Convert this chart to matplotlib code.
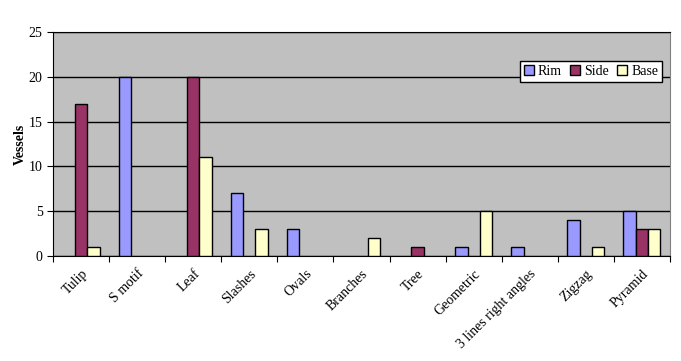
import numpy as np
import matplotlib.pyplot as plt
import matplotlib.transforms as mtransforms

categories = ["Tulip", "S motif", "Leaf", "Slashes", "Ovals", "Branches", "Tree",
              "Geometric", "3 lines right angles", "Zigzag", "Pyramid"]
rim = [0, 20, 0, 7, 3, 0, 0, 1, 1, 4, 5]
side = [17, 0, 20, 0, 0, 0, 1, 0, 0, 0, 3]
base = [1, 0, 11, 3, 0, 2, 0, 5, 0, 1, 3]

plt.rcParams['font.family'] = ['Liberation Serif', 'DejaVu Serif']

fig = plt.figure(figsize=(6.81, 3.61), dpi=100)
ax = fig.add_axes([53 / 681, 105 / 361, 617 / 681, 224 / 361])
ax.set_facecolor("#C0C0C0")

x = np.arange(len(categories)) + 0.5
w = 0.22
series = [("Rim", rim, "#9999FF"), ("Side", side, "#993366"), ("Base", base, "#FFFFCC")]
for k, (name, vals, col) in enumerate(series):
    # zero values are not drawn (no flat outline on the axis)
    h = np.array(vals, dtype=float)
    h[h == 0] = np.nan
    ax.bar(x + (k - 1) * w, h, w, color=col, edgecolor="black", linewidth=1,
           label=name, zorder=3)

ax.set_xlim(0, len(categories))
ax.set_ylim(0, 25)
ax.set_yticks(range(0, 26, 5))
ax.yaxis.grid(True, color="black", linewidth=1, zorder=0)
ax.set_axisbelow(True)

ax.set_xticks(range(len(categories) + 1))
ax.set_xticklabels([])
ax.set_xticks(x, minor=True)
ax.set_xticklabels(categories, minor=True, rotation=45, ha="right", va="top",
                   rotation_mode="anchor", fontsize=10)
shift = mtransforms.ScaledTranslation(-13 / 100, 0, fig.dpi_scale_trans)
for lab in ax.get_xticklabels(minor=True):
    lab.set_transform(lab.get_transform() + shift)
ax.tick_params(axis="x", which="minor", length=0, pad=8)
ax.tick_params(axis="x", which="major", length=4, direction="out")
ax.tick_params(axis="y", length=4, direction="out", labelsize=10)

for s in ["left", "bottom", "top"]:
    ax.spines[s].set_color("black")
ax.spines["right"].set_color("#808080")

ax.set_ylabel("Vessels", fontsize=10, fontweight="bold", labelpad=1)

leg = ax.legend(ncol=3, loc="center", bbox_to_anchor=(0.872, 0.824), fontsize=10,
                frameon=True, fancybox=False, handlelength=0.7, handleheight=0.7,
                handletextpad=0.3, columnspacing=0.6, borderpad=0.3)
leg.get_frame().set_edgecolor("black")
leg.get_frame().set_linewidth(1)
leg.get_frame().set_alpha(1)

fig.savefig("out.png", dpi=100)
